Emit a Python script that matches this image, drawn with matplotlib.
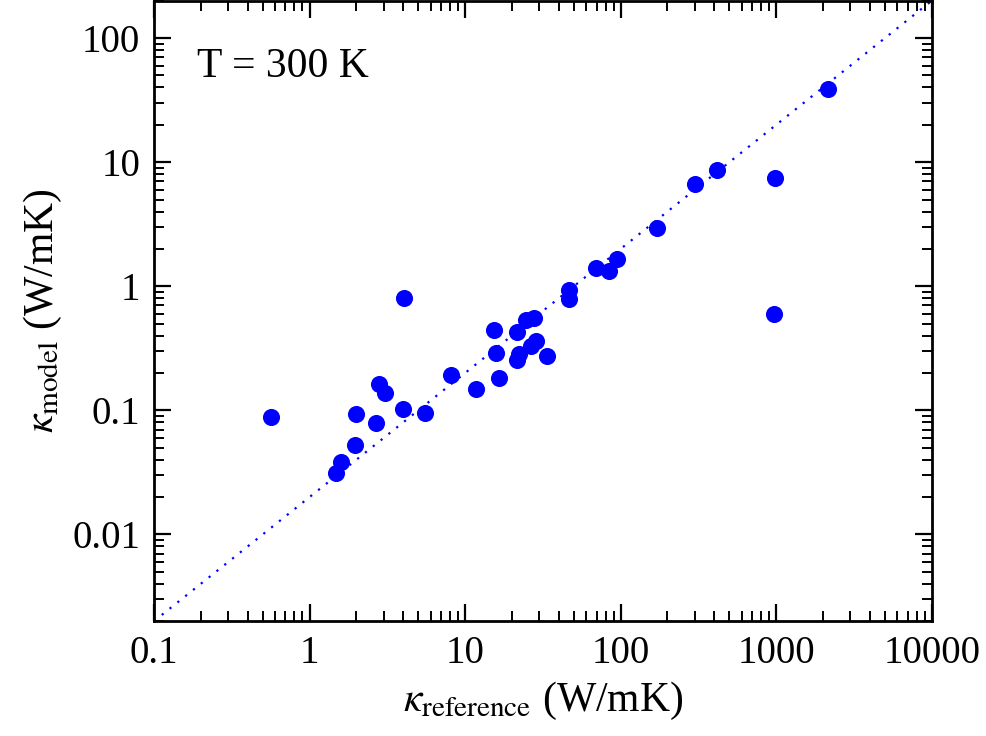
import numpy as np
import matplotlib
matplotlib.use('Agg')
import matplotlib.pyplot as plt
from matplotlib.ticker import LogLocator, NullFormatter, FixedLocator, FixedFormatter

# Thermal conductivity at 300 K: reference vs model (W/mK)
kappa_ref = [0.567, 1.485, 1.593, 1.969, 1.998, 2.688, 2.782, 3.072, 3.994, 4.03,
             5.56, 8.14, 11.67, 15.30, 15.69, 16.48, 21.65, 22.17, 21.65, 24.48,
             27.69, 26.37, 28.4, 33.43, 46.5, 46.5, 69.1, 84.2, 95.4, 172.6,
             301.3, 415.7, 986.7, 963.6, 2165]
kappa_model = [0.0882, 0.0311, 0.0385, 0.0525, 0.0927, 0.0793, 0.1646, 0.1382, 0.1017, 0.804,
               0.0944, 0.1944, 0.150, 0.4477, 0.2885, 0.1839, 0.428, 0.287, 0.2568, 0.5317,
               0.5518, 0.3284, 0.360, 0.273, 0.927, 0.795, 1.412, 1.326, 1.667, 2.96,
               6.69, 8.72, 7.42, 0.594, 38.9]

# guide line kappa_model = 0.02 * kappa_ref
line_x = [0.1, 10000]
line_y = [0.002, 200]

x_ticks = [0.1, 1, 10, 100, 1000, 10000]
x_tick_labels = ['0.1', '1', '10', '100', '1000', '10000']
y_ticks = [0.01, 0.1, 1, 10, 100]
y_tick_labels = ['0.01', '0.1', '1', '10', '100']

plt.rcParams['font.family'] = ['Liberation Serif', 'DejaVu Serif']
plt.rcParams['mathtext.fontset'] = 'stix'

fig = plt.figure(figsize=(9.87, 7.36), dpi=100)
ax = fig.add_axes([0.156, 0.156, 0.788, 0.843])

ax.plot(line_x, line_y, linestyle=(0, (1, 3.5)), color='#0000FF', linewidth=1.6)
ax.plot(kappa_ref, kappa_model, 'o', color='#0000FF', markersize=12.3,
        markeredgewidth=0, clip_on=False)

ax.set_xscale('log')
ax.set_yscale('log')
ax.set_xlim(0.1, 10000)
ax.set_ylim(0.002, 200)

ax.xaxis.set_major_locator(FixedLocator(x_ticks))
ax.xaxis.set_major_formatter(FixedFormatter(x_tick_labels))
ax.yaxis.set_major_locator(FixedLocator(y_ticks))
ax.yaxis.set_major_formatter(FixedFormatter(y_tick_labels))
ax.xaxis.set_minor_locator(LogLocator(base=10, subs=np.arange(2, 10), numticks=20))
ax.yaxis.set_minor_locator(LogLocator(base=10, subs=np.arange(2, 10), numticks=20))
ax.xaxis.set_minor_formatter(NullFormatter())
ax.yaxis.set_minor_formatter(NullFormatter())

ax.tick_params(which='both', direction='in', top=True, right=True, labelsize=28)
ax.tick_params(which='major', length=12, width=1.6, pad=10)
ax.tick_params(which='minor', length=7, width=1.4)
for s in ax.spines.values():
    s.set_linewidth(2)

ax.set_xlabel(r'$\kappa_{\mathrm{reference}}$ (W/mK)', fontsize=30, labelpad=6)
ax.set_ylabel(r'$\kappa_{\mathrm{model}}$ (W/mK)', fontsize=30, labelpad=6)

ax.text(0.055, 0.925, 'T = 300 K', transform=ax.transAxes, fontsize=30,
        va='top', ha='left')

fig.savefig('out.png', dpi=100)
